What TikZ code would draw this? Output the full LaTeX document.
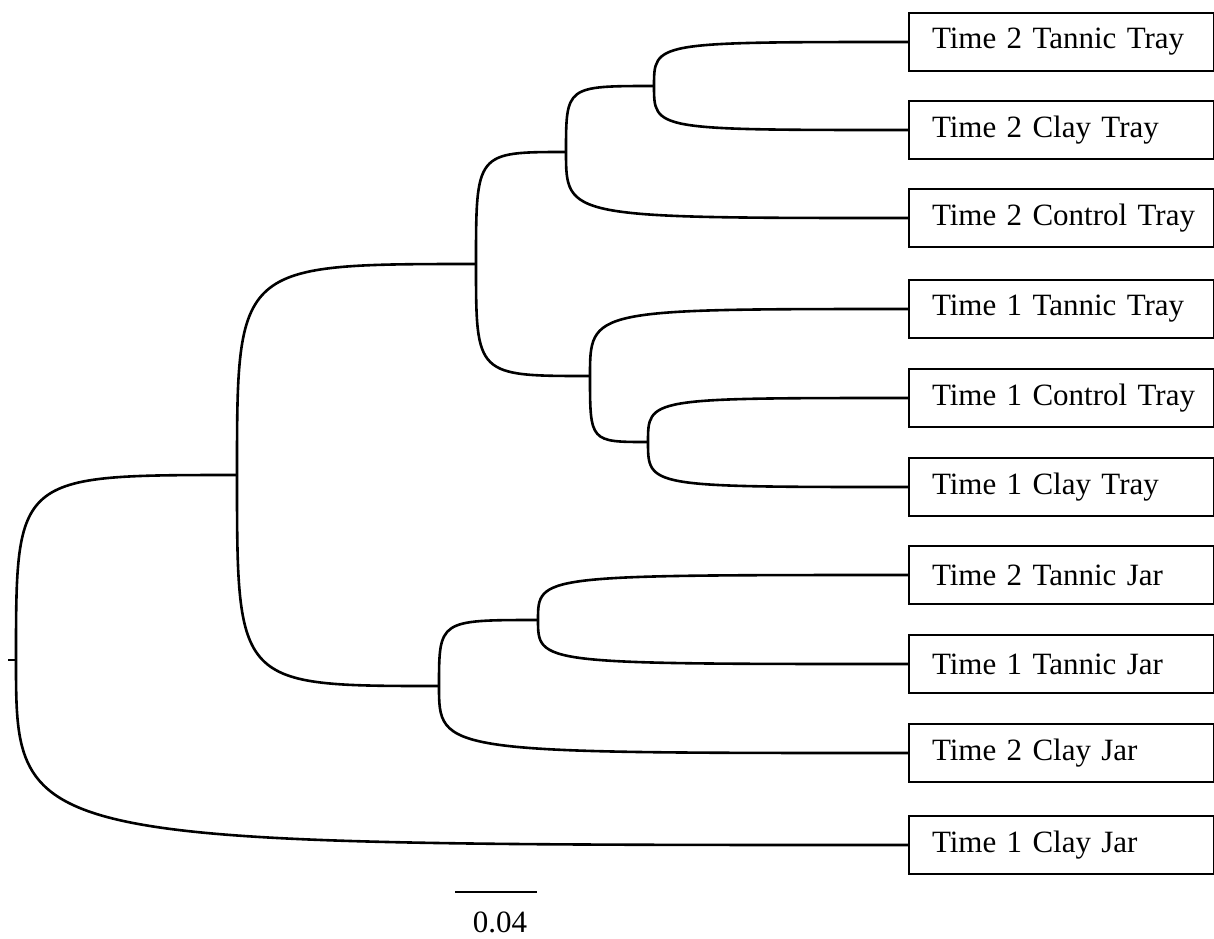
\documentclass[tikz,border=0pt]{standalone}
\usepackage{fontspec}
\setmainfont{Liberation Serif}
\usetikzlibrary{positioning}

\begin{document}
\begin{tikzpicture}[x=0.5pt,y=-0.5pt,
                    every node/.style={font=\fontsize{15.5}{18}\selectfont},
                    taxon/.style={draw,line width=1pt,anchor=west,text width=152.5pt,
                                  inner xsep=0pt,inner ysep=0pt,minimum height=29pt,align=left,
                                  execute at begin node={\hspace*{11.5pt}}},
                    tree/.style={line width=1.3pt},
                    clade/.style={tree,to path={.. controls (\tikztostart|-\tikztotarget)
                                  and (\tikztostart|-\tikztotarget) .. (\tikztotarget)}}]
  \useasboundingbox (0,0) rectangle (1214,938);

  % --- taxa ---------------------------------------------------------------
  \node[taxon] (t2tantray) at (908,42)  {Time 2 Tannic Tray};
  \node[taxon] (t2claytray) at (908,130) {Time 2 Clay Tray};
  \node[taxon] (t2ctrltray) at (908,218) {Time 2 Control Tray};
  \node[taxon] (t1tantray) at (908,309) {Time 1 Tannic Tray};
  \node[taxon] (t1ctrltray) at (908,398) {Time 1 Control Tray};
  \node[taxon] (t1claytray) at (908,487) {Time 1 Clay Tray};
  \node[taxon] (t2tanjar) at (908,575) {Time 2 Tannic Jar};
  \node[taxon] (t1tanjar) at (908,664) {Time 1 Tannic Jar};
  \node[taxon] (t2clayjar) at (908,753) {Time 2 Clay Jar};
  \node[taxon] (t1clayjar) at (908,845) {Time 1 Clay Jar};

  % --- internal nodes -----------------------------------------------------
  \coordinate (stub) at (8,660);
  \coordinate (root) at (16,660);
  \coordinate (all) at (237,475);
  \coordinate (tray) at (476,264);
  \coordinate (trayB) at (566,152);
  \coordinate (trayBB) at (654,86);
  \coordinate (trayA) at (590,376);
  \coordinate (trayAA) at (648,442);
  \coordinate (jar) at (439,686);
  \coordinate (jarT) at (538,620);

  % --- branches -----------------------------------------------------------
  \draw[tree] (stub) -- (root);
  \draw[clade] (root) to (all) (root) to (t1clayjar.west);
  \draw[clade] (all) to (tray) (all) to (jar);
  \draw[clade] (tray) to (trayB) (tray) to (trayA);
  \draw[clade] (trayB) to (trayBB) (trayB) to (t2ctrltray.west);
  \draw[clade] (trayBB) to (t2tantray.west) (trayBB) to (t2claytray.west);
  \draw[clade] (trayA) to (t1tantray.west) (trayA) to (trayAA);
  \draw[clade] (trayAA) to (t1ctrltray.west) (trayAA) to (t1claytray.west);
  \draw[clade] (jar) to (jarT) (jar) to (t2clayjar.west);
  \draw[clade] (jarT) to (t2tanjar.west) (jarT) to (t1tanjar.west);

  % --- scale bar ----------------------------------------------------------
  \coordinate (barL) at (455,892);
  \coordinate (barR) at (537,892);
  \draw[line width=0.6pt] (barL) -- (barR);
  \node[anchor=base] (barlbl) at (500,932) {0.04};
\end{tikzpicture}
\end{document}
